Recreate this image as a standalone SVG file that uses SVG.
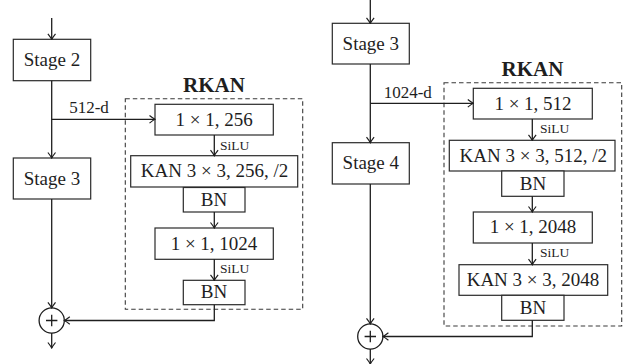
<svg xmlns="http://www.w3.org/2000/svg" width="628" height="364" viewBox="0 0 628 364">
<style>
.box{fill:#fff;stroke:#2a2a2a;stroke-width:1.2}
.dash{fill:none;stroke:#3a3a3a;stroke-width:1.1;stroke-dasharray:4.5 3}
text{font-family:"Liberation Serif",serif;fill:#1e1e1e}
.t{font-size:19px;text-anchor:middle}
.s{font-size:13.5px}
.lbl{font-size:17px;text-anchor:middle}
.b{font-size:21px;font-weight:bold;text-anchor:middle}
.c{fill:none;stroke:#1e1e1e;stroke-width:1.3}
.ca{fill:none;stroke:#1e1e1e;stroke-width:1.3;marker-end:url(#arr)}
</style>
<defs>
<marker id="arr" viewBox="-7 -5 8 10" refX="0" refY="0" markerWidth="8" markerHeight="10" orient="auto" markerUnits="userSpaceOnUse">
<path d="M-5.5,-3.8 Q-1.8,-0.9 0,0 Q-1.8,0.9 -5.5,3.8" fill="none" stroke="#1e1e1e" stroke-width="1.2"/>
</marker>
</defs>

<!-- LEFT DIAGRAM -->
<rect id="rkan1" class="dash" x="125.3" y="98.7" width="177.4" height="210.6"/>
<text class="b" x="214" y="91.7">RKAN</text>

<g id="stage2">
<rect class="box" x="13.3" y="39.3" width="77.4" height="41.4"/>
<text class="t" x="52" y="66">Stage 2</text>
</g>
<g id="stage3a">
<rect class="box" x="13.3" y="158" width="77.4" height="41"/>
<text class="t" x="52" y="184.5">Stage 3</text>
</g>
<g id="conv1a">
<rect class="box" x="155" y="104.3" width="118.3" height="30.7"/>
<text class="t" x="214.2" y="125.5">1 × 1, 256</text>
</g>
<g id="kan1a">
<rect class="box" x="130.7" y="155.7" width="167" height="31.3"/>
<text class="t" x="214.5" y="177">KAN 3 × 3, 256, /2</text>
</g>
<g id="bn1a">
<rect class="box" x="183.3" y="187.5" width="61.7" height="24.5"/>
<text class="t" x="214" y="205.6">BN</text>
</g>
<g id="conv2a">
<rect class="box" x="155" y="228" width="118.3" height="31.3"/>
<text class="t" x="214" y="249.5">1 × 1, 1024</text>
</g>
<g id="bn2a">
<rect class="box" x="183.3" y="280.3" width="61.7" height="24.4"/>
<text class="t" x="214" y="298.3">BN</text>
</g>
<g id="suma">
<circle class="c" cx="51.7" cy="320.5" r="12.6"/>
<path class="c" d="M46,320.5 H57.4 M51.7,314.8 V326.2" stroke-width="1"/>
</g>

<!-- RIGHT DIAGRAM -->
<rect id="rkan2" class="dash" x="444" y="82.7" width="177.7" height="243.3"/>
<text class="b" x="532.5" y="76">RKAN</text>

<g id="stage3b">
<rect class="box" x="332.3" y="23.3" width="77" height="40.7"/>
<text class="t" x="370.8" y="49.5">Stage 3</text>
</g>
<g id="stage4">
<rect class="box" x="332.3" y="142.7" width="77" height="41.3"/>
<text class="t" x="370.8" y="169">Stage 4</text>
</g>
<g id="conv1b">
<rect class="box" x="473.3" y="88.3" width="119" height="30.7"/>
<text class="t" x="533" y="109.5">1 × 1, 512</text>
</g>
<g id="kan1b">
<rect class="box" x="449.3" y="140.3" width="165.7" height="30.7"/>
<text class="t" x="533.3" y="161.5">KAN 3 × 3, 512, /2</text>
</g>
<g id="bn1b">
<rect class="box" x="501.7" y="171" width="62.3" height="25.3"/>
<text class="t" x="533" y="189.5">BN</text>
</g>
<g id="conv2b">
<rect class="box" x="473.3" y="212" width="119" height="31"/>
<text class="t" x="533" y="233.3">1 × 1, 2048</text>
</g>
<g id="kan2b">
<rect class="box" x="459" y="264.7" width="148.7" height="30.6"/>
<text class="t" x="533" y="285.8">KAN 3 × 3, 2048</text>
</g>
<g id="bn2b">
<rect class="box" x="501.7" y="295.3" width="62.3" height="25"/>
<text class="t" x="533" y="313.6">BN</text>
</g>
<g id="sumb">
<circle class="c" cx="370.3" cy="336.5" r="12.6"/>
<path class="c" d="M364.6,336.5 H376 M370.3,330.8 V342.2" stroke-width="1"/>
</g>

<!-- CONNECTORS -->
<g id="connectors">
<path class="ca" d="M51.7,18 V39.3"/>
<path class="ca" d="M51.7,80.7 V158"/>
<path class="ca" d="M51.7,119.3 H155"/>
<path class="ca" d="M214.3,135 V155.7"/>
<path class="ca" d="M214.3,212 V228"/>
<path class="ca" d="M214.3,259.3 V280.3"/>
<path class="ca" d="M214.3,304.7 V320.5 H64.3"/>
<path class="ca" d="M51.7,199 V307.9"/>
<path class="ca" d="M51.7,333.1 V348"/>

<path class="ca" d="M370.3,0 V23.3"/>
<path class="ca" d="M370.3,64 V142.7"/>
<path class="ca" d="M370.3,103.3 H473.3"/>
<path class="ca" d="M532.3,119 V140.3"/>
<path class="ca" d="M532.3,196.3 V212"/>
<path class="ca" d="M532.3,243 V264.7"/>
<path class="ca" d="M532.3,320.3 V336.5 H382.9"/>
<path class="ca" d="M370.3,184 V323.9"/>
<path class="ca" d="M370.3,349.1 V364"/>
</g>

<g id="labels">
<text class="lbl" x="89" y="113.3">512-d</text>
<text class="lbl" x="407.8" y="97.7">1024-d</text>
<text class="s" x="220" y="150">SiLU</text>
<text class="s" x="220" y="272.7">SiLU</text>
<text class="s" x="540" y="133">SiLU</text>
<text class="s" x="540" y="257.3">SiLU</text>
</g>
</svg>
